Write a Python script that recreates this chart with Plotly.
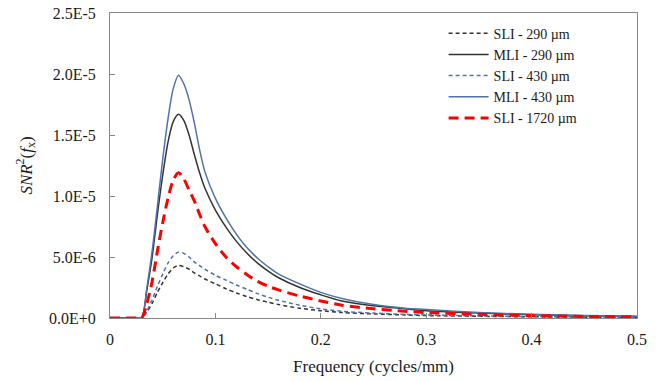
import plotly.graph_objects as go

freq = [0, 0.025, 0.03, 0.035, 0.04, 0.045, 0.05, 0.055, 0.06, 0.065, 0.07, 0.075, 0.08, 0.085, 0.09,
        0.1, 0.11, 0.12, 0.13, 0.14, 0.15, 0.16, 0.18, 0.2, 0.22, 0.25, 0.28, 0.3, 0.35, 0.4, 0.45, 0.5]

# values in units of 1e-5
sli_290 = [0, 0, 0, 0.05, 0.12, 0.21, 0.29, 0.36, 0.41, 0.43, 0.42, 0.40, 0.37, 0.345, 0.32,
           0.28, 0.24, 0.205, 0.175, 0.15, 0.13, 0.11, 0.08, 0.06, 0.045, 0.033, 0.025, 0.02, 0.014, 0.01, 0.007, 0.005]
mli_290 = [0, 0, 0, 0.23, 0.5, 0.85, 1.17, 1.44, 1.61, 1.67, 1.62, 1.50, 1.34, 1.19, 1.065,
           0.885, 0.745, 0.628, 0.53, 0.45, 0.385, 0.33, 0.25, 0.19, 0.14, 0.10, 0.075, 0.06, 0.04, 0.027, 0.018, 0.013]
sli_430 = [0, 0, 0, 0.06, 0.15, 0.26, 0.36, 0.45, 0.51, 0.54, 0.53, 0.50, 0.46, 0.43, 0.40,
           0.35, 0.31, 0.27, 0.235, 0.20, 0.17, 0.145, 0.105, 0.075, 0.055, 0.04, 0.03, 0.025, 0.017, 0.012, 0.009, 0.007]
mli_430 = [0, 0, 0, 0.25, 0.55, 0.92, 1.30, 1.63, 1.88, 1.99, 1.92, 1.79, 1.60, 1.38, 1.20,
           0.98, 0.82, 0.685, 0.575, 0.49, 0.42, 0.36, 0.28, 0.21, 0.16, 0.11, 0.08, 0.07, 0.045, 0.03, 0.02, 0.015]
sli_1720 = [0, 0, 0, 0.12, 0.30, 0.55, 0.78, 0.98, 1.13, 1.19, 1.14, 1.05, 0.96, 0.85, 0.75,
            0.61, 0.50, 0.42, 0.355, 0.30, 0.26, 0.23, 0.18, 0.14, 0.105, 0.075, 0.055, 0.045, 0.03, 0.02, 0.013, 0.01]

names = ["SLI - 290 µm", "MLI - 290 µm", "SLI - 430 µm", "MLI - 430 µm", "SLI - 1720 µm"]
series = [sli_290, mli_290, sli_430, mli_430, sli_1720]
styles = [
    dict(color="#333333", width=1.5, dash="4px,3px"),
    dict(color="#333333", width=1.5),
    dict(color="#4f73a8", width=1.5, dash="4px,3px"),
    dict(color="#4f73a8", width=1.5),
    dict(color="#ff0000", width=3, dash="10px,6px"),
]

yticks = [0, 0.5e-5, 1.0e-5, 1.5e-5, 2.0e-5, 2.5e-5]
yticklabels = ["0.0E+0", "5.0E-6", "1.0E-5", "1.5E-5", "2.0E-5", "2.5E-5"]
xticks = [0, 0.1, 0.2, 0.3, 0.4, 0.5]
xticklabels = ["0", "0.1", "0.2", "0.3", "0.4", "0.5"]

fig = go.Figure()
for name, vals, st in zip(names, series, styles):
    fig.add_trace(go.Scatter(x=freq, y=[v * 1e-5 for v in vals], mode="lines",
                             name=name, line=dict(shape="spline", smoothing=0.8, **st)))

fam = "Liberation Serif, Times New Roman, serif"
font = dict(family=fam, size=16, color="#1a1a1a")
title_font = dict(family=fam, size=17, color="#1a1a1a")
axis_common = dict(showline=True, linecolor="#888888", linewidth=1, mirror=True,
                   ticks="inside", ticklen=5, tickcolor="#888888", showgrid=False,
                   zeroline=False, tickfont=font, automargin=False)

fig.update_layout(
    width=659, height=381,
    margin=dict(l=110, r=22, t=13, b=63),
    plot_bgcolor="white", paper_bgcolor="white",
    font=font,
    showlegend=True,
    legend=dict(x=0.633, y=0.985, xanchor="left", yanchor="top", bgcolor="rgba(0,0,0,0)",
                font=dict(family=fam, size=14, color="#1a1a1a"),
                tracegroupgap=0, itemwidth=40),
    xaxis=dict(range=[0, 0.5], tickvals=xticks, ticktext=xticklabels, ticklabelstandoff=7,
               title=dict(text="Frequency (cycles/mm)", font=title_font, standoff=12), **axis_common),
    yaxis=dict(range=[0, 2.5e-5], tickvals=yticks, ticktext=yticklabels, ticklabelstandoff=10,
               title=dict(text="<i>SNR</i><sup>2</sup>(<i>f</i><sub>x</sub>)", font=title_font, standoff=12),
               **axis_common),
)

fig.write_html("out.html", config={"displayModeBar": False},
               post_script="document.body.style.margin='0';document.body.style.padding='0';")
